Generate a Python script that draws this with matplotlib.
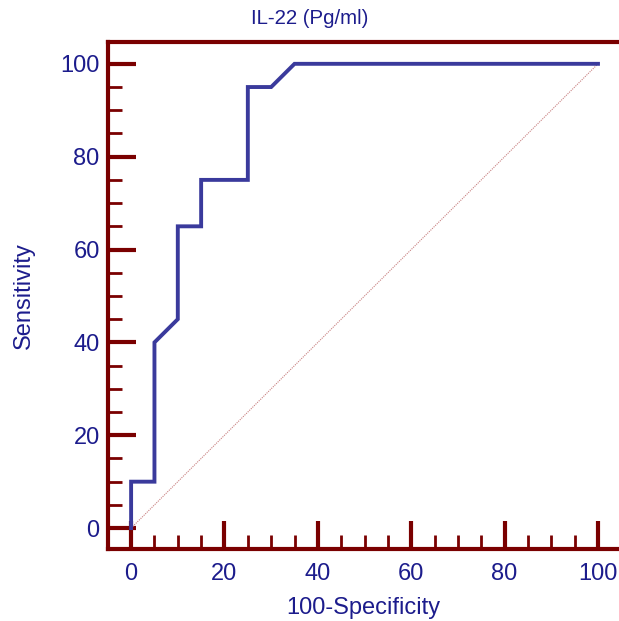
import numpy as np
import matplotlib
matplotlib.use('Agg')
import matplotlib.pyplot as plt
from matplotlib.ticker import MultipleLocator

# ROC curve points (100-Specificity, Sensitivity)
fpr = [0, 0, 5, 5, 10, 10, 15, 15, 25, 25, 30, 35, 100]
tpr = [0, 10, 10, 40, 45, 65, 65, 75, 75, 95, 95, 100, 100]
ticks = [0, 20, 40, 60, 80, 100]

plt.rcParams['font.family'] = ['Liberation Sans', 'DejaVu Sans']

spine_col = '#7a0000'
text_col = '#1c1c8c'
line_col = '#3a3a9c'

fig = plt.figure(figsize=(6.19, 6.21), dpi=100)
ax = fig.add_axes([108 / 619, 72 / 621, 511 / 619, 507 / 621])

ax.plot([0, 100], [0, 100], color='#c88080', lw=0.8, ls=(0, (1, 1)))
ax.plot(fpr, tpr, color=line_col, lw=2.8, solid_joinstyle='miter')

ax.set_xlim(-4.95, 104.5)
ax.set_ylim(-4.5, 104.7)
ax.set_xticks(ticks)
ax.set_yticks(ticks)
ax.xaxis.set_minor_locator(MultipleLocator(5))
ax.yaxis.set_minor_locator(MultipleLocator(5))

ax.spines['right'].set_visible(False)
for s in ['left', 'bottom', 'top']:
    ax.spines[s].set_color(spine_col)
    ax.spines[s].set_linewidth(3)

ax.tick_params(which='major', direction='in', length=20, width=3, color=spine_col,
               labelsize=17, labelcolor=text_col)
ax.tick_params(which='minor', direction='in', length=10, width=2, color=spine_col)
ax.tick_params(axis='y', which='both', right=False, pad=6)
ax.tick_params(axis='x', which='both', top=False, pad=10)

ax.set_xlabel('100-Specificity', fontsize=17, color=text_col, labelpad=9)
ax.set_ylabel('Sensitivity', fontsize=17, color=text_col, labelpad=18)
fig.text(0.5, 1 - 18 / 621, 'IL-22 (Pg/ml)', fontsize=14.7, color=text_col,
         ha='center', va='center')

fig.savefig('out.png', dpi=100)
